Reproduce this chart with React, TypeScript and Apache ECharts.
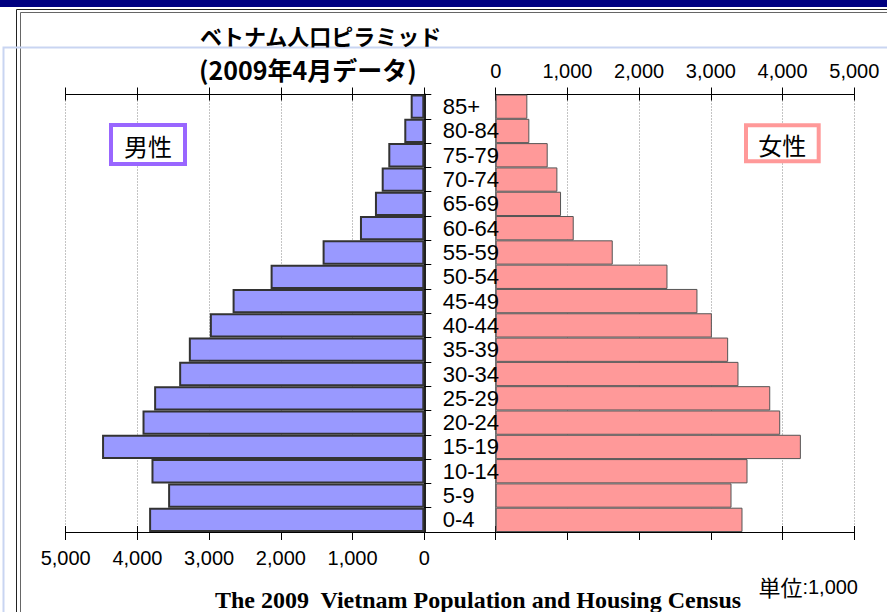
import React, { useEffect, useRef } from "react";
import * as echarts from "echarts";

const categories = ["0-4", "5-9", "10-14", "15-19", "20-24", "25-29", "30-34", "35-39", "40-44", "45-49", "50-54", "55-59", "60-64", "65-69", "70-74", "75-79", "80-84", "85+"];
const maleValues = [3837, 3572, 3804, 4493, 3929, 3767, 3418, 3283, 2990, 2673, 2143, 1418, 897, 688, 594, 502, 279, 190];
const femaleValues = [3441, 3288, 3511, 4255, 3967, 3828, 3385, 3241, 3014, 2813, 2395, 1632, 1088, 911, 860, 725, 469, 441];
const axisMax = 5000;
const axisStep = 1000;
const titleLine1 = "ベトナム人口ピラミッド";
const titleLine2 = "(2009年4月データ)";
const maleLabel = "男性";
const femaleLabel = "女性";
const footer = "The 2009  Vietnam Population and Housing Census";

const SANS = "'Liberation Sans', Arial, sans-serif";
const JP = "'Noto Sans CJK JP', sans-serif";
const fmt = (v: number) => v.toLocaleString("en-US");

const G_TOP = 94.5;
const G_H = 437.5;
const G_W = 358.6;
const M_LEFT = 65.7;
const F_LEFT = 495.7;

export default function App() {
  const ref = useRef<HTMLDivElement>(null);
  useEffect(() => {
    if (!ref.current) return;
    const chart = echarts.init(ref.current, null, { renderer: "svg" });
    const valueAxisBase = {
      type: "value" as const,
      min: 0,
      max: axisMax,
      interval: axisStep,
    };
    const gridLine = { show: true, lineStyle: { color: "#888", type: [1, 2], width: 1 } };
    const tickAxis = (gridIndex: number, position: string, inverse: boolean, len: number) => ({
      ...valueAxisBase,
      gridIndex,
      position,
      inverse,
      axisLine: { show: false },
      axisTick: { show: true, inside: true, length: len, lineStyle: { color: "#000", width: 1 } },
      axisLabel: { show: false },
      splitLine: { show: false },
    });
    const option: any = {
      animation: false,
      backgroundColor: "#fff",
      grid: [
        { left: M_LEFT, top: G_TOP, width: G_W, height: G_H, containLabel: false },
        { left: F_LEFT, top: G_TOP, width: G_W, height: G_H, containLabel: false },
        { left: M_LEFT, top: G_TOP, width: F_LEFT + G_W - M_LEFT, height: G_H, containLabel: false },
      ],
      xAxis: [
        {
          ...valueAxisBase,
          gridIndex: 0,
          position: "bottom",
          inverse: true,
          axisLine: { show: true, lineStyle: { color: "#000", width: 1 } },
          axisTick: { show: true, length: 8, lineStyle: { color: "#000", width: 1 } },
          axisLabel: { show: true, margin: 16, fontSize: 20, fontFamily: SANS, color: "#000", formatter: fmt },
          splitLine: gridLine,
        },
        {
          ...valueAxisBase,
          gridIndex: 0,
          position: "top",
          inverse: true,
          axisLine: { show: true, lineStyle: { color: "#000", width: 1 } },
          axisTick: { show: true, length: 7, lineStyle: { color: "#000", width: 1 } },
          axisLabel: { show: false },
          splitLine: { show: false },
        },
        {
          ...valueAxisBase,
          gridIndex: 1,
          position: "bottom",
          axisLine: { show: true, lineStyle: { color: "#000", width: 1 } },
          axisTick: { show: true, length: 8, lineStyle: { color: "#000", width: 1 } },
          axisLabel: { show: false },
          splitLine: gridLine,
        },
        {
          ...valueAxisBase,
          gridIndex: 1,
          position: "top",
          axisLine: { show: true, lineStyle: { color: "#000", width: 1 } },
          axisTick: { show: true, length: 7, lineStyle: { color: "#000", width: 1 } },
          axisLabel: { show: true, margin: 14, fontSize: 20, fontFamily: SANS, color: "#000", formatter: fmt },
          splitLine: { show: false },
        },
        {
          type: "value", min: 0, max: 1, gridIndex: 2, position: "top",
          axisLine: { show: true, lineStyle: { color: "#000", width: 1 } },
          axisTick: { show: false }, axisLabel: { show: false }, splitLine: { show: false },
        },
        {
          type: "value", min: 0, max: 1, gridIndex: 2, position: "bottom",
          axisLine: { show: true, lineStyle: { color: "#000", width: 1 } },
          axisTick: { show: false }, axisLabel: { show: false }, splitLine: { show: false },
        },
        tickAxis(0, "bottom", true, 6),
        tickAxis(0, "top", true, 6),
        tickAxis(1, "bottom", false, 6),
        tickAxis(1, "top", false, 6),
      ],
      yAxis: [
        {
          type: "category",
          gridIndex: 0,
          position: "right",
          data: categories,
          z: 10,
          axisLine: { show: true, lineStyle: { color: "#222", width: 2 } },
          axisTick: { show: true, length: 7, interval: 0, lineStyle: { color: "#000", width: 1 } },
          axisLabel: { show: true, interval: 0, margin: 18.5, fontSize: 22, fontFamily: SANS, color: "#000", align: "left" },
          splitLine: { show: false },
        },
        {
          type: "category",
          gridIndex: 1,
          position: "left",
          data: categories,
          axisLine: { show: true, lineStyle: { color: "#777", width: 1 } },
          axisTick: { show: false },
          axisLabel: { show: false },
          splitLine: { show: false },
        },
        { type: "value", gridIndex: 2, min: 0, max: 1, show: false },
      ],
      series: [
        {
          name: maleLabel,
          type: "bar",
          xAxisIndex: 0,
          yAxisIndex: 0,
          data: maleValues,
          barCategoryGap: "0%",
          itemStyle: { color: "#9999FF", borderColor: "#333", borderWidth: 2 },
          z: 2,
        },
        {
          name: femaleLabel,
          type: "bar",
          xAxisIndex: 3,
          yAxisIndex: 1,
          data: femaleValues,
          barCategoryGap: "0%",
          itemStyle: { color: "#FF9999", borderColor: "#555", borderWidth: 1 },
          z: 2,
        },
      ],
      graphic: [
        { type: "rect", z: -10, silent: true, shape: { x: 0, y: 0, width: 887, height: 7 }, style: { fill: "#000080" } },
        { type: "polyline", z: -10, silent: true, shape: { points: [[16.5, 612], [16.5, 9.5], [887, 9.5]] }, style: { stroke: "#222", lineWidth: 1, fill: null } },
        { type: "polyline", z: -10, silent: true, shape: { points: [[20.5, 612], [20.5, 12.5], [887, 12.5]] }, style: { stroke: "#666", lineWidth: 1, fill: null } },
        { type: "polyline", z: -9, silent: true, shape: { points: [[3.5, 612], [3.5, 47.5], [887, 47.5]] }, style: { stroke: "#c9d5f2", lineWidth: 2, fill: null } },
        { type: "text", z: 20, style: { text: titleLine1, x: 200, y: 35, font: `bold 22px ${JP}`, fill: "#000", align: "left", verticalAlign: "middle" } },
        { type: "text", z: 20, style: { text: titleLine2, x: 199, y: 69, font: `bold 25px ${JP}`, fill: "#000", align: "left", verticalAlign: "middle" } },
        { type: "rect", z: 20, shape: { x: 111, y: 125, width: 74, height: 39 }, style: { fill: "#fff", stroke: "#9966FF", lineWidth: 4 } },
        { type: "text", z: 21, style: { text: maleLabel, x: 148, y: 145, font: `24px ${JP}`, fill: "#000", align: "center", verticalAlign: "middle" } },
        { type: "rect", z: 20, shape: { x: 746, y: 125.3, width: 72.7, height: 36 }, style: { fill: "#fff", stroke: "#FF9999", lineWidth: 4 } },
        { type: "text", z: 21, style: { text: femaleLabel, x: 782.3, y: 144, font: `24px ${JP}`, fill: "#000", align: "center", verticalAlign: "middle" } },
        { type: "text", z: 20, style: { text: footer, x: 478, y: 600, font: `bold 24px 'Liberation Serif', 'Times New Roman', serif`, fill: "#000", align: "center", verticalAlign: "middle" } },
        {
          type: "text", z: 20,
          style: {
            text: "{a|単位}{b|:1,000}", x: 858, y: 586, align: "right", verticalAlign: "middle",
            rich: {
              a: { fontSize: 22, fontFamily: JP, fill: "#000", verticalAlign: "bottom" },
              b: { fontSize: 20, fontFamily: SANS, fill: "#000", verticalAlign: "bottom" },
            },
          },
        },
      ],
    };
    chart.setOption(option);
    return () => chart.dispose();
  }, []);
  return <div ref={ref} style={{ position: "absolute", left: 0, top: 0, width: 887, height: 612, background: "#fff" }} />;
}
